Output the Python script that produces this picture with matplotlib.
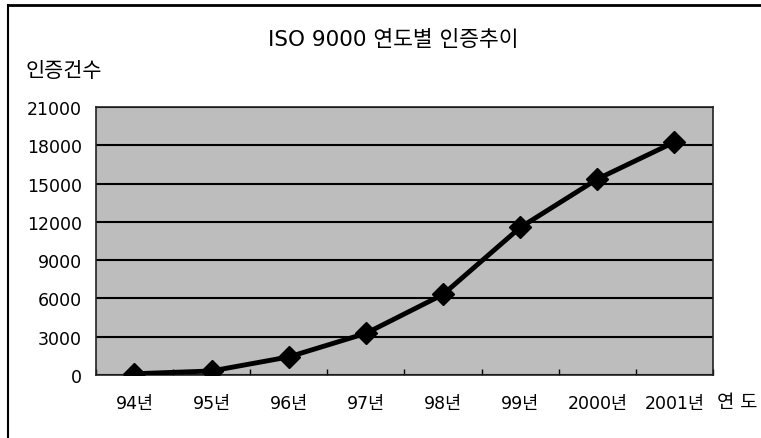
import numpy as np
import matplotlib.pyplot as plt
from matplotlib.lines import Line2D

plt.rcParams['font.family'] = ['DejaVu Sans', 'Noto Sans CJK KR']

years = ['94년', '95년', '96년', '97년', '98년', '99년', '2000년', '2001년']
counts = [80, 300, 1400, 3250, 6300, 11550, 15350, 18250]
yticks = [0, 3000, 6000, 9000, 12000, 15000, 18000, 21000]

fig = plt.figure(figsize=(7.61, 4.39), dpi=100)
ax = fig.add_axes([0.126, 0.144, 0.811, 0.610])

x = np.arange(len(years))
ax.set_facecolor('#bdbdbd')
ax.plot(x, counts, color='black', lw=3.5, marker='D', ms=11, zorder=3)

ax.set_xlim(-0.5, len(years) - 0.5)
ax.set_ylim(0, 21000)
ax.set_yticks(yticks)
ax.set_yticklabels([str(v) for v in yticks], fontsize=12.5)
ax.set_xticks(x)
ax.set_xticklabels(years, fontsize=12.5)
ax.set_xticks(np.arange(len(years) + 1) - 0.5, minor=True)
ax.tick_params(axis='x', which='major', length=0, pad=14)
ax.tick_params(axis='x', which='minor', direction='in', length=4, width=1)
ax.tick_params(axis='y', length=0, pad=10)
ax.yaxis.grid(True, color='black', lw=1.5)
ax.set_axisbelow(True)
for s in ax.spines.values():
    s.set_color('#222222')
    s.set_linewidth(1.2)

fig.text(0.517, 0.909, 'ISO 9000 연도별 인증추이', ha='center', va='center', fontsize=15.5)
fig.text(0.033, 0.838, '인증건수', ha='left', va='center', fontsize=15)
fig.text(0.995, 0.084, '연 도', ha='right', va='center', fontsize=13.5)

# outer frame (top and left edges only visible)
fig.add_artist(Line2D([0.0105, 1.0], [0.987, 0.987], color='black', lw=2, transform=fig.transFigure))
fig.add_artist(Line2D([0.0105, 0.0105], [0.0, 0.987], color='black', lw=1.5, transform=fig.transFigure))

fig.savefig('out.png', dpi=100)
